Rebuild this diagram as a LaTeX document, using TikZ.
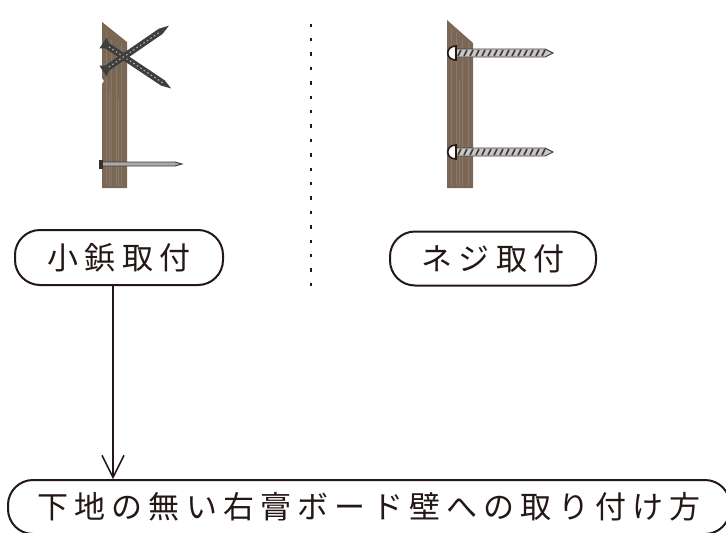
\documentclass[tikz,border=0pt]{standalone}
\usepackage{fontspec}
\setmainfont{Noto Sans CJK JP}
\newfontfamily\jpfont[LetterSpace=20]{Noto Sans CJK JP}
\usetikzlibrary{arrows.meta}
\definecolor{ink}{HTML}{231815}
\definecolor{wood}{RGB}{122,103,86}
\definecolor{woodlight}{RGB}{146,128,110}
\definecolor{screwdark}{RGB}{62,62,62}
\definecolor{screwlight}{RGB}{200,200,200}
\definecolor{nailgray}{RGB}{170,170,170}
\newcommand\cscrew[1]{%
  \fill[screwdark] (0,-6.5) -- (0,6.5) -- (5,3.2) -- (#1-10,3.2) -- (#1,0) -- (#1-10,-3.2) -- (5,-3.2) -- cycle;
  \draw[gray!55, line width=1pt, dash pattern=on 1.6pt off 2.6pt] (7,0) -- (#1-10,0);
}
\newcommand\woodscrew[1]{%
  \fill[screwlight] (455,#1-4) -- (545,#1-4) -- (553,#1) -- (545,#1+4) -- (455,#1+4) -- cycle;
  \foreach \i in {0,...,14} \draw[ink!85, line width=1.6pt] ({458+6*\i},#1+3) -- ({461+6*\i},#1-3);
  \draw[ink!85, line width=0.9pt] (455,#1-4) -- (545,#1-4) -- (553,#1) -- (545,#1+4) -- (455,#1+4);
  \draw[ink, line width=1.6pt, fill=white] (456,#1-7) .. controls (445,#1-7) and (445,#1+7) .. (456,#1+7) -- cycle;
}
\tikzset{
  pill/.style={draw=ink, line width=2pt, rounded corners=25pt, text=ink,
    font=\jpfont\fontsize{31}{37}\selectfont, inner sep=0pt},
  arr/.style={draw=ink, line width=1.5pt, -{Straight Barb[length=22pt,width=22pt]}},
  post/.style={fill=wood},
  grain/.style={woodlight, line width=0.6pt, opacity=0.7},
}
\begin{document}
\begin{tikzpicture}[x=1pt,y=-1pt]
\useasboundingbox (0,0) rectangle (726,533);
\clip (0,0) rectangle (726,533);
\fill[white] (0,0) rectangle (726,533);

% left post (small nails)
\fill[post] (102,22) -- (127,42) -- (127,188) -- (102,188) -- (102,84) -- (104,81) -- (102,78) -- cycle;
\foreach \gx/\gy in {106/30, 111/40, 116/50, 121/44, 109/90, 118/100}
  \draw[grain] (\gx,\gy) -- (\gx,186);
\begin{scope}[shift={(103,43)}, rotate=-33.7]
  \cscrew{82}
\end{scope}
\begin{scope}[shift={(103,71)}, rotate=34.5]
  \cscrew{80}
\end{scope}
\fill[nailgray] (103,162) -- (175,162) -- (182,164) -- (175,166) -- (103,166) -- cycle;
\draw[ink!85, line width=0.9pt] (103,162) -- (175,162) -- (182,164) -- (175,166) -- (103,166);
\fill[ink!90] (99,159.5) rectangle (103,168.5);

% dotted divider
\draw[ink, line width=2pt, dash pattern=on 3.5pt off 10.9pt] (311,23.5) -- (311,288);

% right post (screws)
\fill[post] (447,20) -- (473,43) -- (473,188) -- (447,188) -- cycle;
\foreach \gx/\gy in {451/28, 456/32, 462/38, 468/42, 459/80}
  \draw[grain] (\gx,\gy) -- (\gx,186);
\woodscrew{53}
\woodscrew{152}

% labels
\node[pill, minimum width=208pt, minimum height=55pt] (kogi) at (119,257.5) {小鋲取付};
\node[pill, minimum width=206pt, minimum height=54pt] (neji) at (493,258.5) {ネジ取付};
\node[pill, minimum width=722pt, minimum height=54pt] (wall) at (369,507) {下地の無い右膏ボード壁への取り付け方};

\draw[arr] ([xshift=-6pt]kogi.south) -- ([xshift=-6pt]kogi.south |- wall.north);
\end{tikzpicture}
\end{document}
